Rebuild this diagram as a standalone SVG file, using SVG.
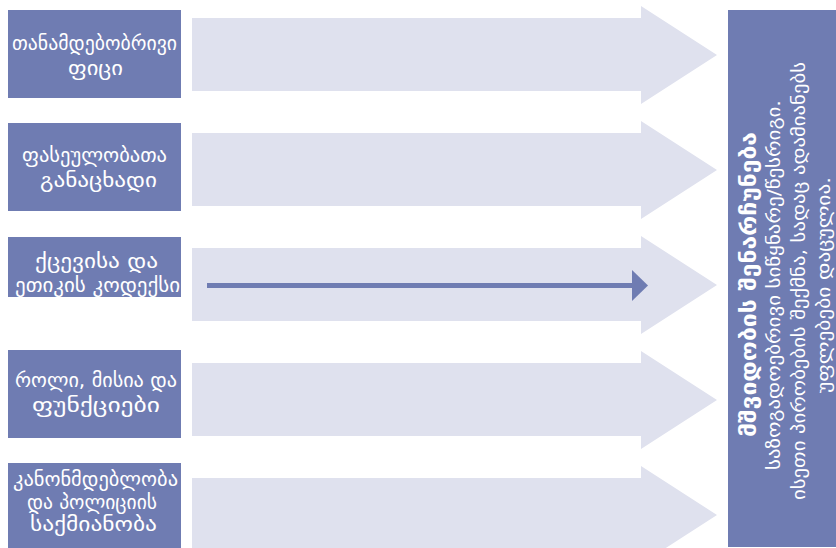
<svg xmlns="http://www.w3.org/2000/svg" width="836" height="548" viewBox="0 0 836 548">
<style>
.box{fill:#6f7cb2}
.arr{fill:#dfe1ee}
.lbl{font-family:"DejaVu Sans",sans-serif;font-size:20px;fill:#ffffff;text-anchor:middle}
.vt{font-family:"DejaVu Sans",sans-serif;fill:#ffffff;text-anchor:middle}
</style>
<defs>
<polygon id="bigArrow" points="192,12 641,12 641,0 717,49 641,98 641,85 192,85"/>
</defs>
<g id="connectors">
<use href="#bigArrow" class="arr" transform="translate(0,6)"/>
<use href="#bigArrow" class="arr" transform="translate(0,121)"/>
<use href="#bigArrow" class="arr" transform="translate(0,236)"/>
<use href="#bigArrow" class="arr" transform="translate(0,351)"/>
<use href="#bigArrow" class="arr" transform="translate(0,466)"/>
<line x1="207" y1="285.5" x2="634" y2="285.5" stroke="#6f7cb2" stroke-width="5"/>
<polygon points="632,270 648,285.5 632,301" fill="#6f7cb2"/>
</g>
<g id="node1">
<rect class="box" x="8" y="10" width="173" height="88"/>
<text class="lbl" x="94.5" y="50" textLength="165" lengthAdjust="spacingAndGlyphs">თანამდებობრივი</text>
<text class="lbl" x="95.5" y="75" textLength="55" lengthAdjust="spacingAndGlyphs">ფიცი</text>
</g>
<g id="node2">
<rect class="box" x="8" y="123" width="173" height="88"/>
<text class="lbl" x="94.5" y="162" textLength="145" lengthAdjust="spacingAndGlyphs">ფასეულობათა</text>
<text class="lbl" x="98.5" y="187" textLength="117" lengthAdjust="spacingAndGlyphs">განაცხადი</text>
</g>
<g id="node3">
<rect class="box" x="8" y="237" width="173" height="60"/>
<text class="lbl" x="96.5" y="268" textLength="123" lengthAdjust="spacingAndGlyphs">ქცევისა და</text>
<text class="lbl" x="97.5" y="292" textLength="165" lengthAdjust="spacingAndGlyphs">ეთიკის კოდექსი</text>
</g>
<g id="node4">
<rect class="box" x="8" y="350" width="173" height="88"/>
<text class="lbl" x="96" y="387" textLength="162" lengthAdjust="spacingAndGlyphs">როლი, მისია და</text>
<text class="lbl" x="96" y="412" textLength="128" lengthAdjust="spacingAndGlyphs">ფუნქციები</text>
</g>
<g id="node5">
<rect class="box" x="8" y="463" width="173" height="85"/>
<text class="lbl" x="95.5" y="486" textLength="165" lengthAdjust="spacingAndGlyphs">კანონმდებლობა</text>
<text class="lbl" x="92" y="508.5" textLength="130" lengthAdjust="spacingAndGlyphs">და პოლიციის</text>
<text class="lbl" x="93.5" y="531" textLength="127" lengthAdjust="spacingAndGlyphs">საქმიანობა</text>
</g>
<g id="node6">
<rect class="box" x="728" y="10" width="108" height="537"/>
<text class="vt" transform="translate(756,284.5) rotate(-90)" font-size="22" font-weight="bold" textLength="305" lengthAdjust="spacingAndGlyphs">მშვიდობის შენარჩუნება</text>
<text class="vt" transform="translate(780,285) rotate(-90)" font-size="18" textLength="370" lengthAdjust="spacingAndGlyphs">საზოგადოებრივი სიწყნარე/წესრიგი.</text>
<text class="vt" transform="translate(805,281) rotate(-90)" font-size="18" textLength="438" lengthAdjust="spacingAndGlyphs">ისეთი პირობების შექმნა, სადაც ადამიანებს</text>
<text class="vt" transform="translate(830,285) rotate(-90)" font-size="18" textLength="216" lengthAdjust="spacingAndGlyphs">უფლებები დაცულია.</text>
</g>
</svg>
